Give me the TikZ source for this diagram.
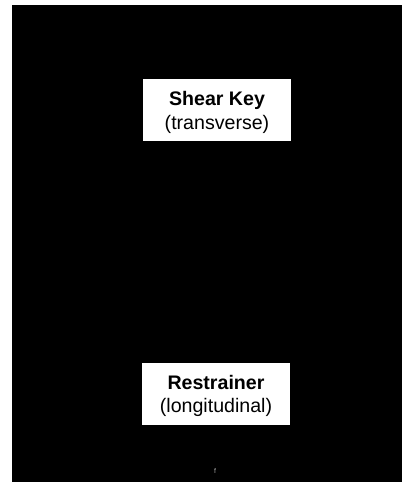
\documentclass[tikz,border=0pt]{standalone}
\usepackage{fontspec}
\setmainfont{Liberation Sans}
\begin{document}
\begin{tikzpicture}[x=1pt,y=-1pt,
  labelbox/.style={draw=none,fill=white,minimum width=148pt,minimum height=62pt,
    inner sep=0pt,align=center,font=\fontsize{19.6}{23.5}\selectfont},
  boxtext/.style={inner sep=0pt,align=center,font=\fontsize{19.6}{23.5}\selectfont},
  markstyle/.style={text=gray!70,font=\fontsize{7}{8}\selectfont,inner sep=0pt}]
\useasboundingbox (0,0) rectangle (402,482);
\fill[white] (0,0) rectangle (402,482);
\fill[black] (12,5) rectangle (402,482);
\node[labelbox] (shear) at (217,110) {};
\node[boxtext] (sheartext) at (217,112.5) {\textbf{Shear Key}\\(transverse)};
\node[labelbox] (restr) at (216,394) {};
\node[boxtext] (restrtext) at (216,396) {\textbf{Restrainer}\\(longitudinal)};
\node[markstyle] (mark) at (215,471) {f};
\end{tikzpicture}
\end{document}
